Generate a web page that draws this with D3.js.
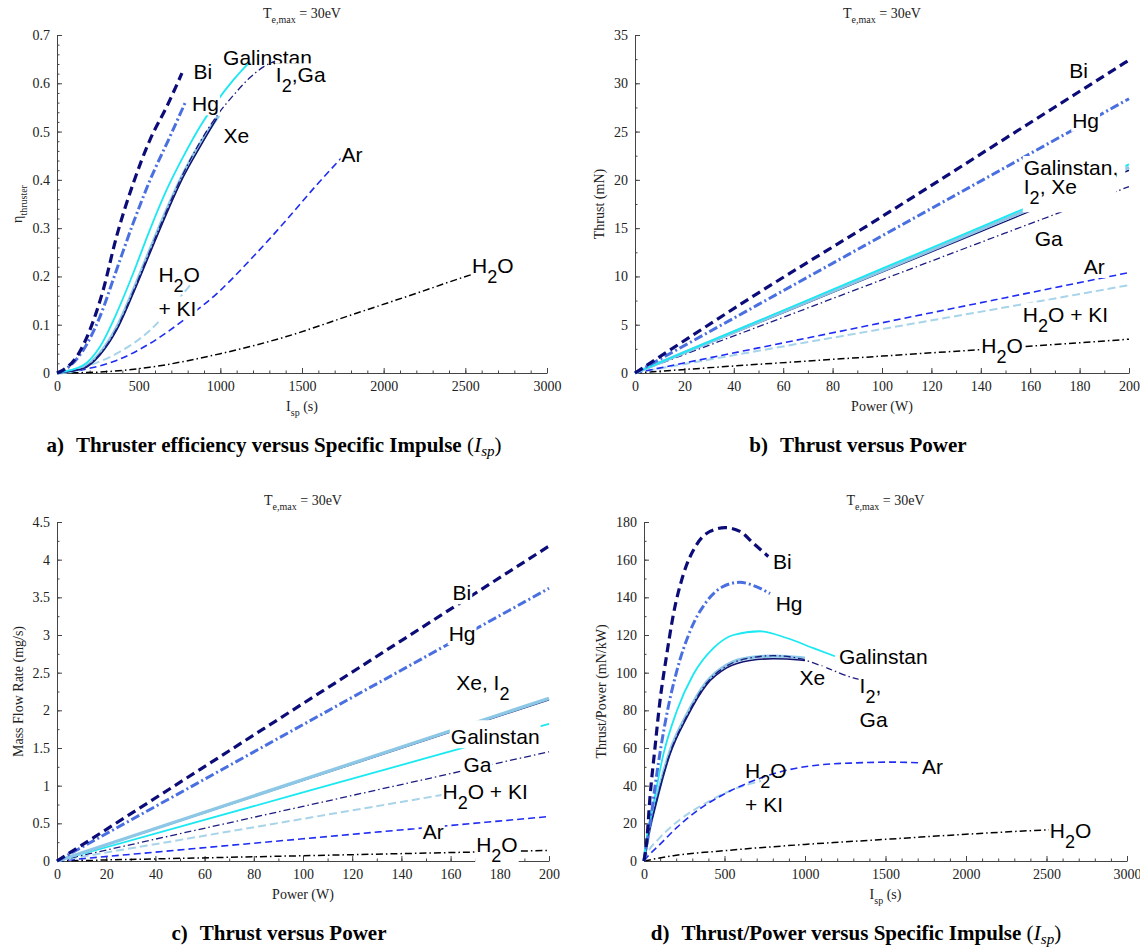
<!DOCTYPE html>
<html>
<head>
<meta charset="utf-8">
<script src="https://cdn.jsdelivr.net/npm/d3@7"></script>
<style>
  body { margin: 0; background: #fff; }
  svg { display: block; }
  text { white-space: pre; }
  .tick text { font-family: "Liberation Serif", "Times New Roman", serif; font-size: 14px; fill: #222; }
  .axis-label, .title { font-family: "Liberation Serif", "Times New Roman", serif; font-size: 14px; fill: #222; }
  .curve-label { font-family: "Liberation Sans", Arial, sans-serif; font-size: 21px; fill: #000; }
  .caption { font-family: "Liberation Serif", "Times New Roman", serif; font-size: 21px; font-weight: bold; fill: #000; }
  .math { font-style: italic; font-weight: normal; }
</style>
</head>
<body>
<svg id="chart" width="1140" height="952"></svg>
<script>
const width = 1140;
const height = 952;

// tick labels
const ispTicks = [0, 500, 1000, 1500, 2000, 2500, 3000];
const etaTicks = [0, 0.1, 0.2, 0.3, 0.4, 0.5, 0.6, 0.7];
const powerTicks = [0, 20, 40, 60, 80, 100, 120, 140, 160, 180, 200];
const thrustTicks = [0, 5, 10, 15, 20, 25, 30, 35];
const mdotTicks = [0, 0.5, 1, 1.5, 2, 2.5, 3, 3.5, 4, 4.5];
const tpTicks = [0, 20, 40, 60, 80, 100, 120, 140, 160, 180];

// a) efficiency vs Isp  [Isp (s), eta]
const etaBi = [[0,0],[37,0.006],[119,0.033],[200,0.088],[282,0.171],[364,0.282],[466,0.392],[568,0.482],[671,0.551],[765,0.621]];
const etaHg = [[0,0],[57,0.009],[160,0.047],[262,0.116],[364,0.213],[466,0.31],[569,0.399],[691,0.489],[789,0.563]];
const etaGalinstan = [[0,0],[160,0.016],[262,0.054],[364,0.123],[466,0.206],[568,0.296],[671,0.379],[773,0.448],[875,0.51],[977,0.562],[1080,0.607],[1182,0.645]];
const etaI2 = [[0,0],[160,0.011],[262,0.040],[364,0.093],[466,0.170],[568,0.254],[671,0.337],[773,0.412],[875,0.474],[990,0.533]];
const etaXe = [[0,0],[160,0.009],[262,0.037],[364,0.088],[466,0.164],[568,0.247],[671,0.33],[773,0.406],[875,0.468],[977,0.527]];
const etaGa = [[0,0],[160,0.010],[262,0.039],[364,0.091],[466,0.168],[568,0.252],[671,0.336],[773,0.413],[875,0.478],[977,0.532],[1080,0.575],[1182,0.612],[1264,0.634],[1335,0.646]];
const etaAr = [[0,0],[160,0.007],[364,0.026],[568,0.061],[773,0.109],[977,0.164],[1182,0.234],[1387,0.31],[1591,0.39],[1740,0.445]];
const etaH2OKI = [[0,0],[160,0.012],[364,0.040],[568,0.088],[732,0.148],[834,0.19]];
const etaH2O = [[0,0],[262,0.002],[568,0.012],[1000,0.04],[1400,0.075],[1800,0.12],[2200,0.165],[2550,0.205],[2650,0.215]];

// b) thrust vs power  [P (W), T (mN)]
const thrustBi = [[0,0],[50,8.3],[100,16.2],[150,24.3],[200,32.4]];
const thrustHg = [[0,0],[50,7.1],[100,14.2],[150,21.3],[200,28.4]];
const thrustGalinstan = [[0,0],[50,5.4],[100,10.8],[150,16.2],[200,21.6]];
const thrustI2 = [[0,0],[50,5.3],[100,10.6],[150,15.95],[200,21.3]];
const thrustXe = [[0,0],[50,5.2],[100,10.45],[150,15.7],[200,21.0]];
const thrustGa = [[0,0],[50,4.8],[100,9.65],[150,14.5],[200,19.3]];
const thrustAr = [[0,0],[50,2.6],[100,5.2],[150,7.8],[200,10.4]];
const thrustH2OKI = [[0,0],[50,2.3],[100,4.55],[150,6.8],[200,9.1]];
const thrustH2O = [[0,0],[50,0.9],[100,1.75],[150,2.6],[200,3.5]];

// c) mass flow vs power  [P (W), mdot (mg/s)]
const mdotBi = [[0,0],[100,2.09],[200,4.18]];
const mdotHg = [[0,0],[100,1.81],[200,3.62]];
const mdotXe = [[0,0],[100,1.07],[200,2.14]];
const mdotI2 = [[0,0],[100,1.08],[200,2.16]];
const mdotGalinstan = [[0,0],[100,0.91],[200,1.82]];
const mdotGa = [[0,0],[100,0.725],[200,1.45]];
const mdotH2OKI = [[0,0],[100,0.56],[175,0.98]];
const mdotAr = [[0,0],[100,0.295],[200,0.59]];
const mdotH2O = [[0,0],[100,0.07],[200,0.14]];

// d) thrust/power vs Isp  [Isp (s), T/P (mN/kW)]
const tpBi = [[0,0],[17,10.6],[37,33.6],[68,60],[99,84.8],[141,109.5],[182,130.7],[244,152],[327,168],[410,175],[503,177],[596,175],[679,168.7],[772,161.7]];
const tpHg = [[0,0],[37,19.4],[79,46],[141,77.7],[203,100.7],[286,122],[389,137.8],[493,145.8],[596,148],[679,146.3],[783,142]];
const tpGalinstan = [[0,0],[17,12.4],[58,30],[120,56.5],[203,79.5],[306,99],[431,113],[555,120],[720,122],[886,118.4],[1052,113],[1186,108.7]];
const tpI2 = [[0,0],[17,9.5],[79,33],[161,58],[265,77.5],[389,95],[513,104],[658,108],[803,108.8],[969,108],[1000,107.6]];
const tpXe = [[0,0],[17,8.8],[79,31.8],[161,56.5],[265,76],[389,93.6],[513,102.5],[658,106.5],[803,107.4],[969,106.7],[1000,106.4]];
const tpGa = [[0,0],[17,9],[79,32.3],[161,57.2],[265,76.8],[389,94.5],[513,103.5],[658,107.8],[803,109],[969,107.4],[1135,102.5],[1300,97.2],[1340,96.4]];
const tpAr = [[0,0],[17,1.8],[99,8.8],[203,17.7],[327,26.5],[493,35.3],[700,43.3],[907,48.6],[1114,51.2],[1321,52.1],[1528,52.5],[1740,52.1]];
const tpH2OKI = [[0,0],[17,3.5],[99,12.4],[224,22],[389,31],[555,38],[727,42.5]];
const tpH2O = [[0,0],[182,2.8],[500,5.5],[1000,8.8],[1500,11.5],[2000,14.2],[2500,16.5],[2650,17]];

// line look per propellant
const styles = {
  Bi:        { color: '#0c0c78', width: 3.2, dash: '9,5' },
  Hg:        { color: '#4a6fe0', width: 3,   dash: '9,3,2,3' },
  I2:        { color: '#8cc8e6', width: 3.4, dash: null },
  Xe:        { color: '#12126e', width: 1.5, dash: null },
  Galinstan: { color: '#1ae8f2', width: 1.8, dash: null },
  Ga:        { color: '#1c1c82', width: 1.3, dash: '7,3,1.5,3' },
  Ar:        { color: '#1f2cf2', width: 1.6, dash: '7,4' },
  H2OKI:     { color: '#a8d4ea', width: 2,   dash: '8,4' },
  H2O:       { color: '#000000', width: 1.5, dash: '7,3,1.5,3' },
};

const panels = [
  {
    box: { left: 57, right: 547, top: 35, bottom: 373 },
    xDomain: [0, 3000], yDomain: [0, 0.7],
    xTicks: ispTicks, xMinor: 100, yTicks: etaTicks, yMinor: 0.02,
    xLabel: 'I_{sp} (s)', yLabel: 'η_{thruster}', yLabelX: 22,
    series: [['H2O', etaH2O], ['H2OKI', etaH2OKI], ['Ar', etaAr], ['I2', etaI2], ['Xe', etaXe], ['Ga', etaGa],
             ['Galinstan', etaGalinstan], ['Hg', etaHg], ['Bi', etaBi]],
    labels: [
      { t: 'Bi', x: 836, y: 0.608 }, { t: 'Galinstan', x: 1017, y: 0.638, bg: false },
      { t: 'I_2,Ga', x: 1340, y: 0.602 }, { t: 'Hg', x: 827, y: 0.542 }, { t: 'Xe', x: 1019, y: 0.476 },
      { t: 'Ar', x: 1742, y: 0.436 }, { t: 'H_2O', x: 621, y: 0.188, bg: false }, { t: '+ KI', x: 621, y: 0.119 },
      { t: 'H_2O', x: 2541, y: 0.208 },
    ],
    caption: { tag: 'a)', text: 'Thruster efficiency versus Specific Impulse', math: true, x: 274, y: 452 },
  },
  {
    box: { left: 635, right: 1129, top: 35, bottom: 373 },
    xDomain: [0, 200], yDomain: [0, 35],
    xTicks: powerTicks, xMinor: 10, yTicks: thrustTicks, yMinor: 2.5,
    xLabel: 'Power (W)', yLabel: 'Thrust (mN)', yLabelX: 604,
    series: [['H2O', thrustH2O], ['H2OKI', thrustH2OKI], ['Ar', thrustAr], ['Ga', thrustGa], ['Xe', thrustXe],
             ['I2', thrustI2], ['Galinstan', thrustGalinstan], ['Hg', thrustHg], ['Bi', thrustBi]],
    labels: [
      { t: 'Bi', x: 175.8, y: 30.56 }, { t: 'Hg', x: 177, y: 25.4 }, { t: 'Galinstan,', x: 157.4, y: 20.5, padR: 6 },
      { t: 'I_2, Xe', x: 157.4, y: 18.5, padR: 38, padB: 4 }, { t: 'Ga', x: 161.8, y: 13.1 }, { t: 'Ar', x: 181.7, y: 10.25 },
      { t: 'H_2O + KI', x: 157, y: 5.33 }, { t: 'H_2O', x: 140.2, y: 2.06 },
    ],
    caption: { tag: 'b)', text: 'Thrust versus Power', math: false, x: 858, y: 452 },
  },
  {
    box: { left: 57, right: 549, top: 522, bottom: 861 },
    xDomain: [0, 200], yDomain: [0, 4.5],
    xTicks: powerTicks, xMinor: 10, yTicks: mdotTicks, yMinor: 0.25,
    xLabel: 'Power (W)', yLabel: 'Mass Flow Rate (mg/s)', yLabelX: 23,
    series: [['H2O', mdotH2O], ['Ar', mdotAr], ['H2OKI', mdotH2OKI], ['Ga', mdotGa], ['Galinstan', mdotGalinstan],
             ['Xe', mdotXe], ['I2', mdotI2], ['Hg', mdotHg], ['Bi', mdotBi]],
    labels: [
      { t: 'Bi', x: 160.8, y: 3.46 }, { t: 'Hg', x: 159.2, y: 2.92 }, { t: 'Xe, I_2', x: 162.3, y: 2.27 },
      { t: 'Galinstan', x: 160.1, y: 1.55, padT: 5 }, { t: 'Ga', x: 165.2, y: 1.186 }, { t: 'H_2O + KI', x: 156.7, y: 0.82 },
      { t: 'Ar', x: 148.7, y: 0.288 }, { t: 'H_2O', x: 170.4, y: 0.12 },
    ],
    caption: { tag: 'c)', text: 'Thrust versus Power', math: false, x: 279, y: 940 },
  },
  {
    box: { left: 644, right: 1127, top: 522, bottom: 861 },
    xDomain: [0, 3000], yDomain: [0, 180],
    xTicks: ispTicks, xMinor: 100, yTicks: tpTicks, yMinor: 10,
    xLabel: 'I_{sp} (s)', yLabel: 'Thrust/Power (mN/kW)', yLabelX: 606,
    series: [['H2O', tpH2O], ['H2OKI', tpH2OKI], ['Ar', tpAr], ['I2', tpI2], ['Xe', tpXe], ['Ga', tpGa],
             ['Galinstan', tpGalinstan], ['Hg', tpHg], ['Bi', tpBi]],
    labels: [
      { t: 'Bi', x: 802, y: 155.2 }, { t: 'Hg', x: 818, y: 132.7 }, { t: 'Galinstan', x: 1211, y: 104.4 },
      { t: 'Xe', x: 966, y: 93.3 }, { t: 'I_2,', x: 1339, y: 89.4 }, { t: 'Ga', x: 1339, y: 71.3 },
      { t: 'Ar', x: 1727, y: 46.4 }, { t: 'H_2O', x: 628, y: 44.2, bg: false }, { t: '+ KI', x: 628, y: 26.0 },
      { t: 'H_2O', x: 2520, y: 12.4 },
    ],
    caption: { tag: 'd)', text: 'Thrust/Power versus Specific Impulse', math: true, x: 856, y: 940 },
  },
];

// text with "_x" or "_{xy}" subscripts
function rich(sel, str, subSize, shift) {
  const re = /_\{([^}]*)\}|_(.)|([^_]+)/g;
  let m, down = false;
  while ((m = re.exec(str))) {
    const isSub = m[3] === undefined;
    const ts = sel.append('tspan').text(isSub ? (m[1] !== undefined ? m[1] : m[2]) : m[3]);
    if (isSub) {
      ts.attr('font-size', subSize);
      if (!down) { ts.attr('dy', shift); down = true; }
    } else if (down) {
      ts.attr('dy', -shift);
      down = false;
    }
  }
  return sel;
}

const svg = d3.select('#chart');

function drawPanel(p) {
  const x = d3.scaleLinear().domain(p.xDomain).range([p.box.left, p.box.right]);
  const y = d3.scaleLinear().domain(p.yDomain).range([p.box.bottom, p.box.top]);
  const g = svg.append('g');

  const fmt = (d) => String(+d.toFixed(2));

  // minor ticks
  const xMinor = d3.range(p.xDomain[0], p.xDomain[1] + 1e-9, p.xMinor);
  const yMinor = d3.range(p.yDomain[0], p.yDomain[1] + 1e-9, p.yMinor);
  g.append('g')
    .attr('transform', `translate(0,${p.box.bottom})`)
    .call(d3.axisBottom(x).tickValues(xMinor).tickSize(-2.5).tickSizeOuter(0).tickFormat(''))
    .call((s) => s.select('.domain').remove());
  g.append('g')
    .attr('transform', `translate(${p.box.left},0)`)
    .call(d3.axisLeft(y).tickValues(yMinor).tickSize(-2.5).tickSizeOuter(0).tickFormat(''))
    .call((s) => s.select('.domain').remove());

  // major ticks + axes
  const xAxis = g.append('g')
    .attr('transform', `translate(0,${p.box.bottom})`)
    .call(d3.axisBottom(x).tickValues(p.xTicks).tickSize(-5).tickSizeOuter(0).tickPadding(8).tickFormat(fmt));
  const yAxis = g.append('g')
    .attr('transform', `translate(${p.box.left},0)`)
    .call(d3.axisLeft(y).tickValues(p.yTicks).tickSize(-5).tickSizeOuter(0).tickPadding(7).tickFormat(fmt));
  [xAxis, yAxis].forEach((a) => {
    a.attr('font-family', null).attr('font-size', null);
    a.selectAll('.domain, line').attr('stroke', '#444');
  });
  g.selectAll('.tick line').attr('stroke', '#444');

  // title
  const cx = (p.box.left + p.box.right) / 2;
  rich(g.append('text').attr('class', 'title').attr('x', cx).attr('y', p.box.top - 17)
    .attr('text-anchor', 'middle'), 'T_{e,max} = 30eV', 10, 5);

  // axis labels
  rich(g.append('text').attr('class', 'axis-label').attr('x', cx).attr('y', p.box.bottom + 38)
    .attr('text-anchor', 'middle'), p.xLabel, 10, 5);
  rich(g.append('text').attr('class', 'axis-label')
    .attr('transform', `translate(${p.yLabelX},${(p.box.top + p.box.bottom) / 2}) rotate(-90)`)
    .attr('text-anchor', 'middle'), p.yLabel, 10, 5);

  // curves
  const line = d3.line().x((d) => x(d[0])).y((d) => y(d[1])).curve(d3.curveMonotoneX);
  g.append('g').selectAll('path')
    .data(p.series)
    .join('path')
    .attr('d', (d) => line(d[1]))
    .attr('fill', 'none')
    .attr('stroke', (d) => styles[d[0]].color)
    .attr('stroke-width', (d) => styles[d[0]].width)
    .attr('stroke-dasharray', (d) => styles[d[0]].dash);

  // curve labels, drawn over the lines on a white patch
  p.labels.forEach((l) => {
    const lg = g.append('g');
    const t = rich(lg.append('text').attr('class', 'curve-label').attr('x', x(l.x)).attr('y', y(l.y)), l.t, 18, 10);
    if (l.bg !== false) {
      const b = t.node().getBBox();
      const padT = l.padT || 0, padB = l.padB || 0, padR = l.padR || 0;
      lg.insert('rect', 'text')
        .attr('x', b.x - 1).attr('y', b.y - padT)
        .attr('width', b.width + 2 + padR).attr('height', b.height + padT + padB)
        .attr('fill', '#fff');
    }
  });

  // caption
  const c = p.caption;
  const cap = svg.append('text').attr('class', 'caption').attr('x', c.x).attr('y', c.y).attr('text-anchor', 'middle');
  cap.append('tspan').text(c.tag);
  cap.append('tspan').attr('dx', 12).text(c.text + (c.math ? ' ' : ''));
  if (c.math) {
    cap.append('tspan').attr('font-weight', 'normal').text('(');
    cap.append('tspan').attr('class', 'math').attr('font-size', 22).text('I');
    cap.append('tspan').attr('class', 'math').attr('font-size', 15).attr('dy', 4).text('sp');
    cap.append('tspan').attr('font-weight', 'normal').attr('dy', -4).text(')');
  }
}

panels.forEach(drawPanel);
</script>
</body>
</html>
